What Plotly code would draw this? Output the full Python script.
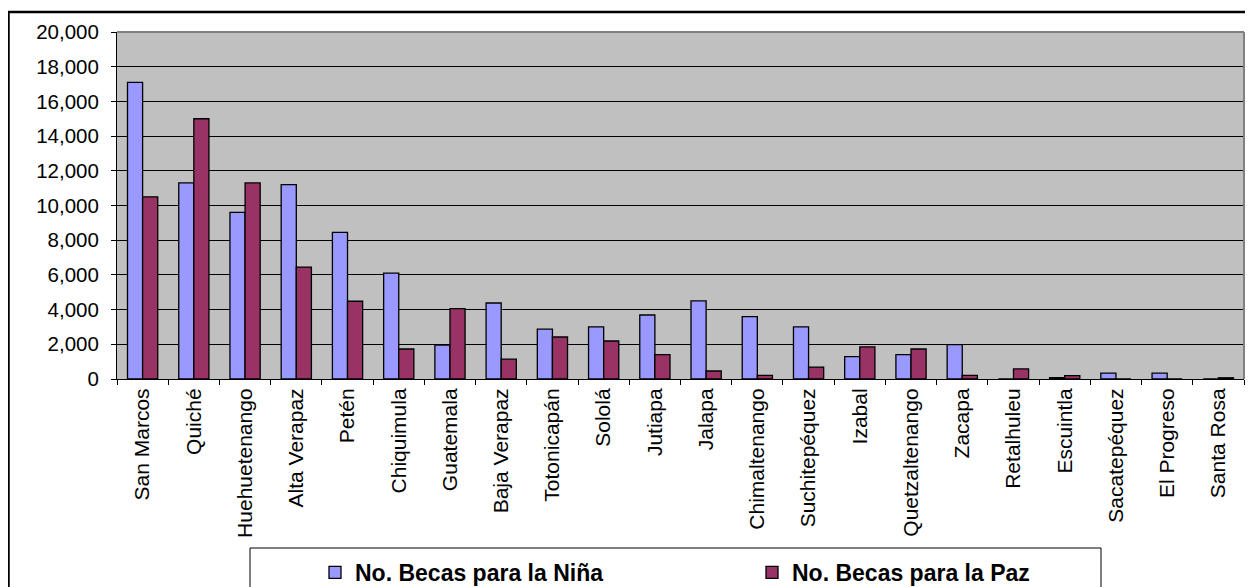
import plotly.graph_objects as go

categories = ["San Marcos", "Quiché", "Huehuetenango", "Alta Verapaz", "Petén", "Chiquimula",
              "Guatemala", "Baja Verapaz", "Totonicapán", "Sololá", "Jutiapa", "Jalapa",
              "Chimaltenango", "Suchitepéquez", "Izabal", "Quetzaltenango", "Zacapa",
              "Retalhuleu", "Escuintla", "Sacatepéquez", "El Progreso", "Santa Rosa"]
becas_nina = [17100, 11300, 9600, 11200, 8450, 6100, 1950, 4380, 2870, 3000, 3690, 4500,
              3600, 3000, 1290, 1400, 1980, 0, 80, 340, 340, 0]
becas_paz = [10500, 15000, 11300, 6450, 4480, 1730, 4060, 1140, 2420, 2190, 1400, 460,
             210, 690, 1850, 1730, 210, 580, 200, 0, 0, 70]
series_names = ["No. Becas para la Niña", "No. Becas para la Paz"]
y_ticks = list(range(0, 20001, 2000))

# page body has an 8px margin: figure coordinates = page coordinates - 8
OFF = 8
W, H = 1253 - OFF, 587 - OFF
L = 117 - OFF
TOP = 32 - OFF
BOT = 379 - OFF
RIGHT = 1244 - OFF
pw, ph = RIGHT - L, BOT - TOP

def px(x):  # page x -> paper
    return (x - OFF - L) / pw

def py(y):  # page y -> paper
    return (BOT - (y - OFF)) / ph

FONT = "Liberation Sans, Arial, sans-serif"

fig = go.Figure()
fig.add_trace(go.Bar(x=categories, y=becas_nina, name=series_names[0],
                     marker=dict(color="#9999FF", line=dict(color="black", width=1.3))))
fig.add_trace(go.Bar(x=categories, y=becas_paz, name=series_names[1],
                     marker=dict(color="#993366", line=dict(color="black", width=1.3))))

shapes = [
    # outer chart border (top and left edges visible)
    dict(type="line", xref="paper", yref="paper", x0=px(8), x1=px(1260), y0=py(12), y1=py(12),
         line=dict(color="black", width=2.5), layer="above"),
    dict(type="line", xref="paper", yref="paper", x0=px(8.5), x1=px(8.5), y0=py(11), y1=py(600),
         line=dict(color="black", width=2.5), layer="above"),
    # plot area top/right border (grey)
    dict(type="line", xref="paper", yref="paper", x0=0, x1=1, y0=1, y1=1,
         line=dict(color="#808080", width=2), layer="above"),
    dict(type="line", xref="paper", yref="paper", x0=1, x1=1, y0=0, y1=1,
         line=dict(color="#808080", width=2), layer="above"),
    # legend box
    dict(type="rect", xref="paper", yref="paper", x0=px(250), x1=px(1101), y0=py(548), y1=py(640),
         line=dict(color="black", width=1), fillcolor="white", layer="above"),
]

fig.update_layout(
    width=W, height=H,
    margin=dict(l=L, r=W - RIGHT, t=TOP, b=H - BOT, autoexpand=False),
    paper_bgcolor="white", plot_bgcolor="#C0C0C0",
    barmode="group", bargap=0.41, bargroupgap=0,
    font=dict(family=FONT, size=20.5, color="black"),
    showlegend=True,
    legend=dict(orientation="h", x=px(315), y=py(551), xanchor="left", yanchor="top",
                bgcolor="rgba(0,0,0,0)", borderwidth=0,
                font=dict(family=FONT, size=23, color="black", weight="bold"),
                entrywidthmode="pixels", entrywidth=392, traceorder="normal"),
    shapes=shapes,
    xaxis=dict(type="category", showline=True, linecolor="black", linewidth=1,
               ticks="outside", ticklen=5, tickcolor="black", tickson="boundaries",
               tickangle=-90, showgrid=False, tickfont=dict(family=FONT, size=21)),
    yaxis=dict(range=[0, 20000], tickvals=y_ticks, tickformat=",", showline=True,
               linecolor="black", linewidth=1, ticks="outside", ticklen=5, tickcolor="black",
               showgrid=True, gridcolor="black", gridwidth=1, zeroline=False,
               tickfont=dict(family=FONT, size=20.5), ticklabelstandoff=8),
)

fig.write_html("out.html")
